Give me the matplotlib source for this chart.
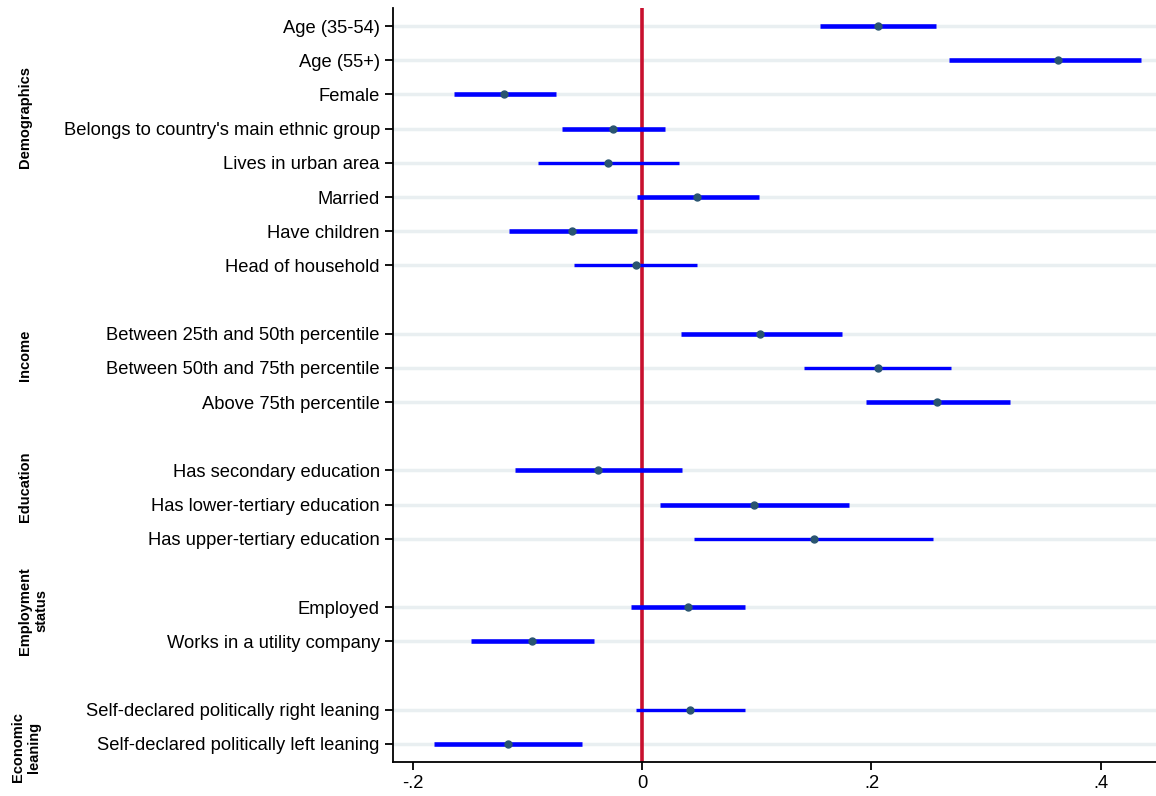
import matplotlib.pyplot as plt

plt.rcParams['font.family'] = ['Liberation Sans', 'DejaVu Sans']

labels = ["Age (35-54)", "Age (55+)", "Female", "Belongs to country's main ethnic group",
          "Lives in urban area", "Married", "Have children", "Head of household",
          "Between 25th and 50th percentile", "Between 50th and 75th percentile", "Above 75th percentile",
          "Has secondary education", "Has lower-tertiary education", "Has upper-tertiary education",
          "Employed", "Works in a utility company",
          "Self-declared politically right leaning", "Self-declared politically left leaning"]
# row position of each label (gaps between groups)
rows = [0, 1, 2, 3, 4, 5, 6, 7, 9, 10, 11, 13, 14, 15, 17, 18, 20, 21]

coef = [0.206, 0.363, -0.120, -0.025, -0.030, 0.048, -0.061, -0.005,
        0.103, 0.206, 0.257, -0.038, 0.098, 0.150, 0.040, -0.096, 0.042, -0.117]
lo = [0.155, 0.268, -0.164, -0.070, -0.091, -0.004, -0.116, -0.059,
      0.034, 0.141, 0.195, -0.111, 0.016, 0.045, -0.010, -0.149, -0.005, -0.181]
hi = [0.256, 0.435, -0.075, 0.020, 0.032, 0.102, -0.004, 0.048,
      0.174, 0.269, 0.321, 0.035, 0.180, 0.254, 0.090, -0.042, 0.090, -0.052]
thick = [1, 1, 1, 1, 0, 1, 1, 0, 1, 0, 1, 1, 1, 0, 1, 1, 0, 1]

groups = ["Demographics", "Income", "Education", "Employment\nstatus", "Economic\nleaning"]
group_rows = [2.66, 9.62, 13.48, 17.1, 21.1]
group_x = [25, 25, 25, 33, 26]

fig = plt.figure(figsize=(11.56, 7.96), dpi=100)
ax = fig.add_axes([393 / 1156, 34 / 796, 1 - 393 / 1156, 754 / 796])

for r in rows:
    ax.axhline(r, color='#e9eff1', lw=2.5, zorder=0)
ax.axvline(0, color='#c8102e', lw=2.6, zorder=1)

for i in range(len(rows)):
    w = 3.3 if thick[i] else 2.4
    ax.plot([lo[i], hi[i]], [rows[i], rows[i]], color='#0000ff', lw=w, solid_capstyle='butt', zorder=2)
ax.plot(coef, rows, 'o', color='#2a5570', ms=5, zorder=3)

ax.set_xlim(-0.217, 0.448)
ax.set_ylim(21.53, -0.53)
ax.set_yticks(rows)
ax.set_yticklabels(labels, fontsize=13.2)
ax.set_xticks([-0.2, 0, 0.2, 0.4])
ax.set_xticklabels(["-.2", "0", ".2", ".4"], fontsize=13.2)
ax.tick_params(axis='both', length=6, width=1.3, color='black')
ax.spines['top'].set_visible(False)
ax.spines['right'].set_visible(False)
ax.spines['left'].set_linewidth(1.3)
ax.spines['bottom'].set_linewidth(1.3)

for g, gr, gx in zip(groups, group_rows, group_x):
    ypix = 26 + gr * 34.19
    fig.text(gx / 1156, 1 - ypix / 796, g, rotation=90, ha='center', va='center',
             multialignment='center', fontsize=10.5, fontweight='bold')

fig.savefig("out.png", dpi=100)
